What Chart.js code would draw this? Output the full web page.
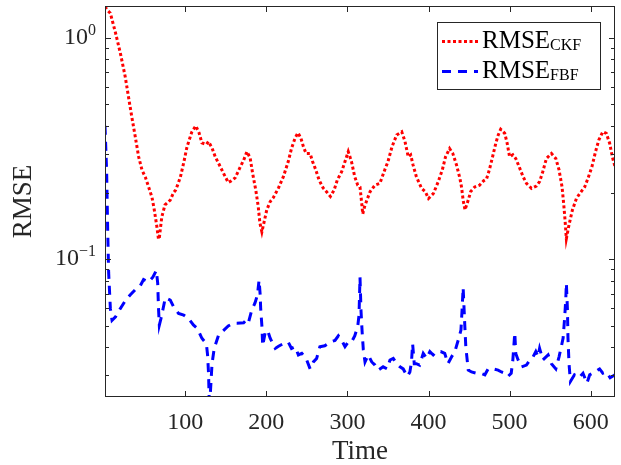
<!DOCTYPE html>
<html>
<head>
<style>
  body { margin: 0; padding: 0; background: #fff; }
  #wrap { width: 621px; height: 465px; }
</style>
<script src="https://cdn.jsdelivr.net/npm/chart.js@4.4.1/dist/chart.umd.min.js"></script>
</head>
<body>
<div id="wrap"><canvas id="chart" width="621" height="465"></canvas></div>
<script>
// CKF curve (red dotted)
const ckfTime = [1, 4, 7.6, 14, 20, 26, 30, 34, 38.4, 42.5, 46.6, 50.7, 54.8, 59, 61.8, 65, 67, 68, 71, 75, 78, 81.5, 85.6, 88, 90.5, 94, 98, 102, 108, 113, 117, 120.5, 126, 128.6, 133, 137, 142, 147, 153, 157, 161.5, 168, 172, 176, 180, 183, 187, 190, 192, 194.5, 197, 200.5, 204.7, 208.7, 215, 221, 227, 231, 235.5, 239, 242.5, 245.7, 249, 254, 257, 261, 265, 270, 275, 279, 283.5, 287.5, 293, 297, 301, 305, 309, 312.7, 315.5, 317.6, 318.9, 321, 324, 328, 334, 340, 346, 350, 355, 360.7, 367, 371, 375, 378, 381, 385, 391.5, 396, 400, 406, 412, 417, 421, 426, 430, 434.6, 438.7, 440.7, 442.7, 445, 449, 452, 457, 463, 468, 471.5, 475, 479, 483, 486, 489, 494, 497, 500, 504, 507.6, 511.7, 516.6, 520.8, 527, 533, 537, 541, 545.4, 551.6, 557, 561, 564.7, 566.7, 568.4, 570, 573.3, 577.5, 582.4, 586.5, 592.6, 596.7, 601.6, 606, 610, 615, 619.3, 623.4, 626.7, 630];
const ckfRmse = [1.38, 1.33, 1.29, 1.05, 0.85, 0.665, 0.54, 0.44, 0.356, 0.29, 0.253, 0.235, 0.212, 0.19, 0.167, 0.14, 0.123, 0.125, 0.155, 0.176, 0.18, 0.185, 0.2, 0.205, 0.216, 0.235, 0.272, 0.32, 0.375, 0.4, 0.372, 0.335, 0.33, 0.34, 0.318, 0.29, 0.267, 0.245, 0.222, 0.226, 0.233, 0.262, 0.28, 0.306, 0.287, 0.245, 0.205, 0.173, 0.146, 0.133, 0.146, 0.167, 0.182, 0.19, 0.21, 0.236, 0.276, 0.316, 0.353, 0.372, 0.353, 0.322, 0.3, 0.3, 0.276, 0.253, 0.228, 0.21, 0.2, 0.192, 0.205, 0.228, 0.249, 0.276, 0.306, 0.276, 0.236, 0.216, 0.212, 0.179, 0.16, 0.172, 0.185, 0.202, 0.216, 0.22, 0.253, 0.276, 0.322, 0.364, 0.376, 0.34, 0.29, 0.296, 0.266, 0.236, 0.209, 0.202, 0.188, 0.198, 0.224, 0.253, 0.29, 0.316, 0.3, 0.266, 0.232, 0.212, 0.185, 0.167, 0.185, 0.202, 0.212, 0.216, 0.226, 0.23, 0.253, 0.29, 0.334, 0.364, 0.386, 0.37, 0.334, 0.29, 0.296, 0.285, 0.262, 0.236, 0.22, 0.209, 0.214, 0.224, 0.249, 0.285, 0.3, 0.285, 0.253, 0.212, 0.178, 0.15, 0.124, 0.143, 0.167, 0.188, 0.198, 0.212, 0.232, 0.262, 0.306, 0.345, 0.376, 0.37, 0.334, 0.29, 0.262];

// FBF curve (blue dashed)
const fbfTime = [1, 3, 4.3, 5.5, 7.6, 9.7, 14, 20, 26, 32, 38.4, 44.6, 48.6, 54.8, 60, 64.3, 66, 67, 68, 70, 72.5, 75.4, 81.5, 85.6, 91.7, 98, 104, 110, 115, 120.5, 126, 127.5, 128.7, 129.8, 133, 135.7, 141, 147, 153, 159.5, 163.6, 172, 176, 178, 182, 186, 189, 191, 192.4, 193, 194.5, 195.5, 198.5, 201.4, 204.7, 211, 215, 221, 227, 231, 235.5, 239.5, 243.7, 249, 254, 258, 262, 266, 272, 278.6, 284.7, 288.8, 293, 297, 301, 305, 309, 312.7, 314.3, 315.5, 316.7, 318, 319.6, 321.7, 325.7, 330, 334, 338, 344, 349, 352.5, 356.5, 360.7, 364.8, 368.8, 371.7, 374, 377, 379, 380.4, 382.4, 385, 389, 393.5, 397.7, 401.7, 405.8, 410, 415, 420, 424, 428.5, 432.5, 436.6, 440, 441.5, 442.7, 444.8, 446, 449, 453, 459, 464.5, 469.5, 473.5, 479.7, 485.8, 490, 494, 498, 502, 504, 506.4, 507.6, 510.5, 514.7, 520.8, 525, 529, 532.3, 535, 537, 541, 547.5, 551.6, 557, 561, 564, 566, 568, 569.3, 570, 571.3, 572, 573.3, 575, 580, 585.6, 590.5, 595.4, 598.8, 605, 611, 615, 619.3, 624, 630];
const fbfRmse = [0.4, 0.25, 0.136, 0.087, 0.06, 0.053, 0.055, 0.06, 0.065, 0.069, 0.073, 0.076, 0.081, 0.079, 0.083, 0.089, 0.078, 0.06, 0.0505, 0.054, 0.0595, 0.067, 0.0654, 0.061, 0.057, 0.056, 0.054, 0.0505, 0.0487, 0.044, 0.0416, 0.037, 0.0306, 0.021, 0.0338, 0.0396, 0.0454, 0.0476, 0.05, 0.0514, 0.0514, 0.0517, 0.0535, 0.052, 0.059, 0.0635, 0.069, 0.0805, 0.069, 0.06, 0.05, 0.0407, 0.0466, 0.0479, 0.044, 0.0396, 0.0405, 0.0416, 0.0423, 0.0396, 0.0403, 0.037, 0.0376, 0.0357, 0.032, 0.0344, 0.0357, 0.0403, 0.0407, 0.0423, 0.043, 0.0451, 0.043, 0.0403, 0.0423, 0.0423, 0.0451, 0.0498, 0.056, 0.083, 0.059, 0.0479, 0.039, 0.0344, 0.037, 0.0344, 0.0333, 0.0316, 0.0327, 0.032, 0.0351, 0.0357, 0.0338, 0.0327, 0.032, 0.0306, 0.0296, 0.031, 0.0344, 0.0416, 0.0338, 0.0338, 0.0333, 0.0376, 0.0357, 0.0383, 0.037, 0.0383, 0.0383, 0.0376, 0.0338, 0.0363, 0.0383, 0.0431, 0.0479, 0.06, 0.0746, 0.0498, 0.0403, 0.0316, 0.031, 0.0306, 0.0306, 0.0301, 0.032, 0.032, 0.0316, 0.031, 0.0306, 0.0296, 0.0306, 0.0351, 0.0466, 0.0376, 0.0351, 0.0327, 0.0333, 0.0351, 0.0363, 0.0383, 0.0363, 0.0396, 0.0351, 0.037, 0.0338, 0.032, 0.0363, 0.0407, 0.0441, 0.055, 0.0661, 0.078, 0.06, 0.0441, 0.0338, 0.0281, 0.0301, 0.0292, 0.0306, 0.0276, 0.0301, 0.031, 0.032, 0.0306, 0.031, 0.0292, 0.0301];

const xTicks = [100, 200, 300, 400, 500, 600];
const yTicks = [0.03, 0.04, 0.05, 0.06, 0.07, 0.08, 0.09, 0.1, 0.2, 0.3, 0.4, 0.5, 0.6, 0.7, 0.8, 0.9, 1];
const yMajor = [0.1, 1];
const yMajorExp = ['\u22121', '0'];
const seriesNames = ['RMSE', 'RMSE'];
const seriesSubs = ['CKF', 'FBF'];

const axisColor = '#262626';
const serif = '"Liberation Serif", serif';

function pts(xs, ys) {
  return xs.map((t, i) => ({ x: t, y: ys[i] }));
}

// box, inward ticks, y labels with exponents, legend
const decor = {
  id: 'decor',
  afterDraw(chart) {
    const ctx = chart.ctx;
    const a = chart.chartArea;
    const x = chart.scales.x, y = chart.scales.y;
    ctx.save();
    ctx.strokeStyle = axisColor;
    ctx.lineWidth = 1;
    ctx.strokeRect(Math.round(a.left) + 0.5, Math.round(a.top) + 0.5,
      Math.round(a.right - a.left) - 1, Math.round(a.bottom - a.top) - 1);

    ctx.beginPath();
    xTicks.forEach(v => {
      const px = Math.round(x.getPixelForValue(v)) + 0.5;
      ctx.moveTo(px, a.bottom); ctx.lineTo(px, a.bottom - 6);
      ctx.moveTo(px, a.top); ctx.lineTo(px, a.top + 6);
    });
    yTicks.forEach(v => {
      const py = Math.round(y.getPixelForValue(v)) + 0.5;
      const len = yMajor.includes(v) ? 6 : 4;
      ctx.moveTo(a.left, py); ctx.lineTo(a.left + len, py);
      ctx.moveTo(a.right, py); ctx.lineTo(a.right - len, py);
    });
    ctx.stroke();

    // y tick labels: 10^n
    ctx.fillStyle = axisColor;
    ctx.textBaseline = 'alphabetic';
    ctx.textAlign = 'left';
    yMajor.forEach((v, i) => {
      const py = y.getPixelForValue(v);
      ctx.font = '16px ' + serif;
      const ew = ctx.measureText(yMajorExp[i]).width;
      ctx.font = '24px ' + serif;
      const bw = ctx.measureText('10').width;
      const right = a.left - 9;
      ctx.fillText('10', right - ew - bw, py + 6);
      ctx.font = '16px ' + serif;
      ctx.fillText(yMajorExp[i], right - ew, py - 3);
    });

    // legend
    const lx = 437.5, ly = 22.5, lw = 163, lh = 67;
    ctx.fillStyle = '#fff';
    ctx.fillRect(lx, ly, lw, lh);
    ctx.strokeStyle = axisColor;
    ctx.strokeRect(lx, ly, lw, lh);
    const rows = [41.5, 71.5];
    chart.data.datasets.forEach((ds, i) => {
      ctx.save();
      ctx.strokeStyle = ds.borderColor;
      ctx.lineWidth = ds.borderWidth;
      ctx.setLineDash(ds.borderDash);
      ctx.beginPath();
      ctx.moveTo(442, rows[i]);
      ctx.lineTo(478, rows[i]);
      ctx.stroke();
      ctx.restore();
      ctx.fillStyle = '#000';
      ctx.font = '25px ' + serif;
      ctx.fillText(seriesNames[i], 482, rows[i] + 6);
      const nw = ctx.measureText(seriesNames[i]).width;
      ctx.font = '16px ' + serif;
      ctx.fillText(seriesSubs[i], 482 + nw, rows[i] + 8);
    });
    ctx.restore();
  }
};

Chart.defaults.font.family = serif;
Chart.defaults.color = axisColor;

new Chart(document.getElementById('chart'), {
  type: 'line',
  data: {
    datasets: [{
      label: 'RMSE_CKF',
      data: pts(ckfTime, ckfRmse),
      borderColor: '#ff0000',
      borderWidth: 3,
      borderDash: [3, 2.5],
      pointRadius: 0,
      tension: 0,
      clip: 0
    }, {
      label: 'RMSE_FBF',
      data: pts(fbfTime, fbfRmse),
      borderColor: '#0000ff',
      borderWidth: 3,
      borderDash: [9, 7],
      pointRadius: 0,
      tension: 0,
      clip: 0
    }]
  },
  options: {
    responsive: false,
    animation: false,
    layout: { padding: { left: 0, top: 6, right: 6, bottom: 0 } },
    plugins: { legend: { display: false }, tooltip: { enabled: false } },
    scales: {
      x: {
        type: 'linear',
        min: 1,
        max: 630,
        grid: { display: false },
        border: { display: false },
        afterBuildTicks: s => { s.ticks = xTicks.map(v => ({ value: v })); },
        afterFit: s => { s.height = 68; },
        ticks: {
          autoSkip: false,
          maxRotation: 0,
          padding: 3,
          color: axisColor,
          font: { size: 24 }
        },
        title: {
          display: true,
          text: 'Time',
          color: axisColor,
          font: { size: 27, lineHeight: 0.95 },
          padding: { top: 0, bottom: 0 }
        }
      },
      y: {
        type: 'logarithmic',
        min: 0.0239,
        max: 1.39,
        grid: { display: false },
        border: { display: false },
        afterBuildTicks: s => { s.ticks = yTicks.map(v => ({ value: v })); },
        afterFit: s => { s.width = 105; },
        ticks: { display: false },
        title: {
          display: true,
          text: 'RMSE',
          color: axisColor,
          font: { size: 27, lineHeight: 0.95 },
          padding: { top: 11, bottom: 0 }
        }
      }
    }
  },
  plugins: [decor]
});
</script>
</body>
</html>
